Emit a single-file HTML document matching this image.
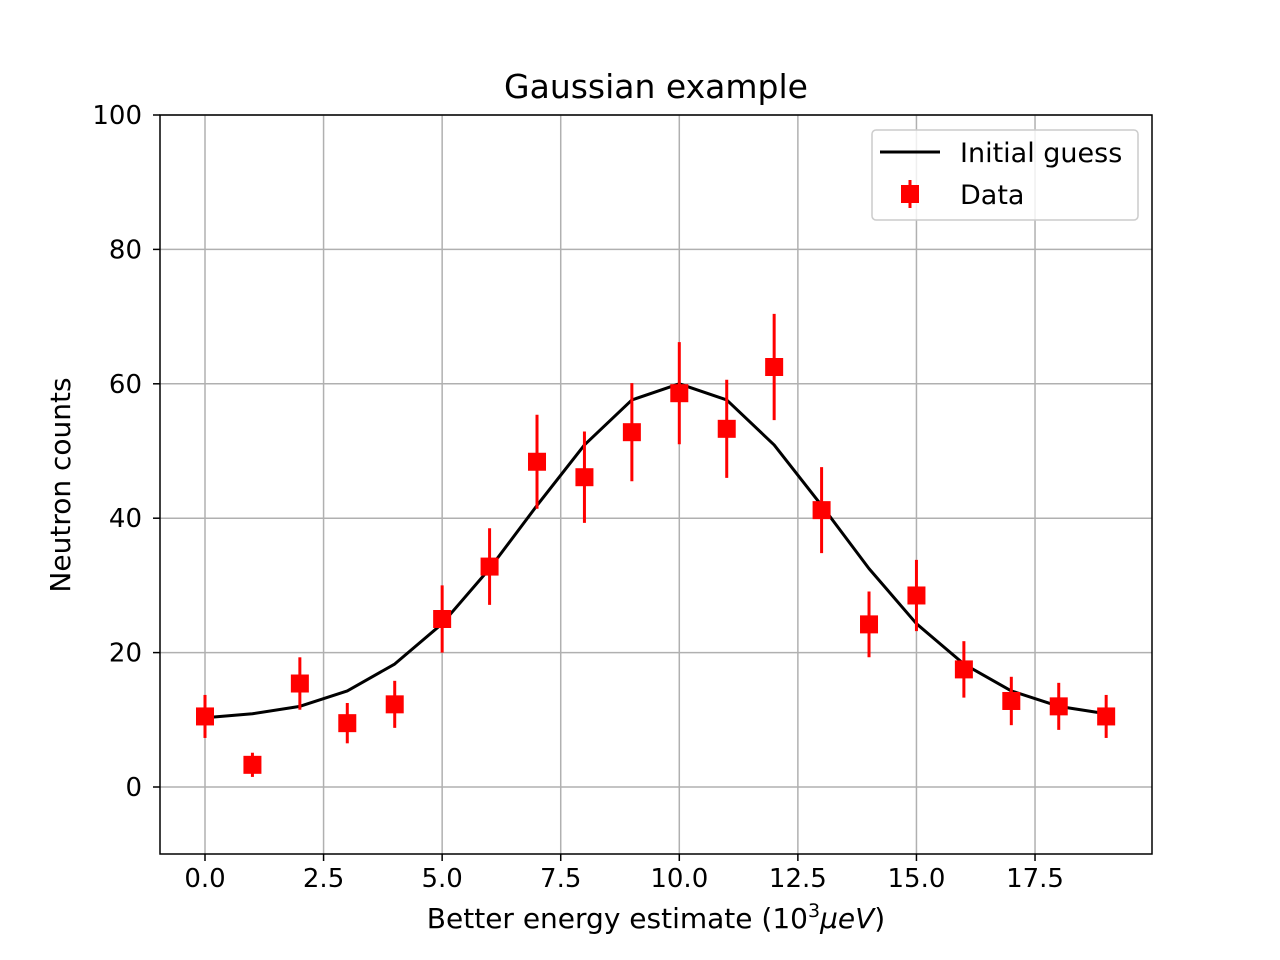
<!DOCTYPE html>
<html><head><meta charset="utf-8">
<style>body{margin:0;background:#fff}svg{display:block;font-family:"DejaVu Sans","Liberation Sans",sans-serif}</style>
</head><body>
<svg id="chart" width="1280" height="960">
<rect x="0" y="0" width="1280" height="960" fill="#fff"/>
<g id="grid"></g>
<g id="ticks"></g>
<g id="series"></g>
<rect x="160" y="115" width="992" height="739" fill="none" stroke="#000" stroke-width="1.5"/>
<text x="656" y="98" font-size="33" text-anchor="middle">Gaussian example</text>
<text x="656" y="928" font-size="28" text-anchor="middle">Better energy estimate (10<tspan font-size="19" dy="-11">3</tspan><tspan dy="11" font-style="italic">μeV</tspan>)</text>
<text transform="translate(70,485) rotate(-90)" font-size="28" text-anchor="middle">Neutron counts</text>
<g>
<rect x="872" y="130" width="266" height="90" rx="4" fill="#fff" fill-opacity="0.8" stroke="#ccc" stroke-width="1.5"/>
<g>
<line x1="880" y1="152" x2="940" y2="152" stroke="#000" stroke-width="3"/>
<text x="960" y="162" font-size="27">Initial guess</text></g>
<g>
<line x1="910" y1="180" x2="910" y2="208" stroke="#f00" stroke-width="3"/>
<rect x="901" y="185" width="18" height="18" fill="#f00"/>
<text x="960" y="204" font-size="27">Data</text></g>
</g>
</svg>
<script>
const xData=[0,1,2,3,4,5,6,7,8,9,10,11,12,13,14,15,16,17,18,19];
const yData=[10.5,3.3,15.4,9.5,12.3,25,32.8,48.4,46.1,52.8,58.6,53.3,62.5,41.2,24.2,28.5,17.5,12.8,12,10.5];
const yErr=[3.2,1.8,3.9,3.0,3.5,5,5.7,7,6.8,7.3,7.6,7.3,7.9,6.4,4.9,5.3,4.2,3.6,3.5,3.2];
const guess=[10.3,10.9,12.0,14.3,18.3,24.3,32.5,41.9,50.9,57.6,60,57.6,50.9,41.9,32.5,24.3,18.3,14.3,12.0,10.9];
const xTicks=[0,2.5,5,7.5,10,12.5,15,17.5];
const xTickLabels=["0.0","2.5","5.0","7.5","10.0","12.5","15.0","17.5"];
const yTicks=[0,20,40,60,80,100];
const NS="http://www.w3.org/2000/svg";
const X=v=>205+v*47.43, Y=v=>787-v*6.72;
function mk(p,t,a){const e=document.createElementNS(NS,t);for(const k in a)e.setAttribute(k,a[k]);p.appendChild(e);return e;}
const grid=document.getElementById('grid'),ticks=document.getElementById('ticks'),ser=document.getElementById('series');
xTicks.forEach((v,i)=>{
 const g=mk(grid,'line',{x1:X(v),x2:X(v),y1:115,y2:854,stroke:'#b0b0b0','stroke-width':1.5});
 
 const t=mk(ticks,'line',{x1:X(v),x2:X(v),y1:854,y2:861,stroke:'#000','stroke-width':1.5});
 
 const l=mk(ticks,'text',{x:X(v),y:887,'font-size':26,'text-anchor':'middle'});l.textContent=xTickLabels[i];
 
});
yTicks.forEach(v=>{
 const g=mk(grid,'line',{x1:160,x2:1152,y1:Y(v),y2:Y(v),stroke:'#b0b0b0','stroke-width':1.5});
 
 const t=mk(ticks,'line',{x1:153,x2:160,y1:Y(v),y2:Y(v),stroke:'#000','stroke-width':1.5});
 
 const l=mk(ticks,'text',{x:142,y:Y(v)+9,'font-size':26,'text-anchor':'end'});l.textContent=String(v);
 
});
const path=mk(ser,'polyline',{points:xData.map((x,i)=>X(x)+','+Y(guess[i])).join(' '),fill:'none',stroke:'#000','stroke-width':3,'stroke-linejoin':'round'});

xData.forEach((x,i)=>{
 const e=mk(ser,'line',{x1:X(x),x2:X(x),y1:Y(yData[i]-yErr[i]),y2:Y(yData[i]+yErr[i]),stroke:'#f00','stroke-width':3});
 
 const r=mk(ser,'rect',{x:X(x)-9,y:Y(yData[i])-9,width:18,height:18,fill:'#f00'});
 
});
</script>
</body></html>
